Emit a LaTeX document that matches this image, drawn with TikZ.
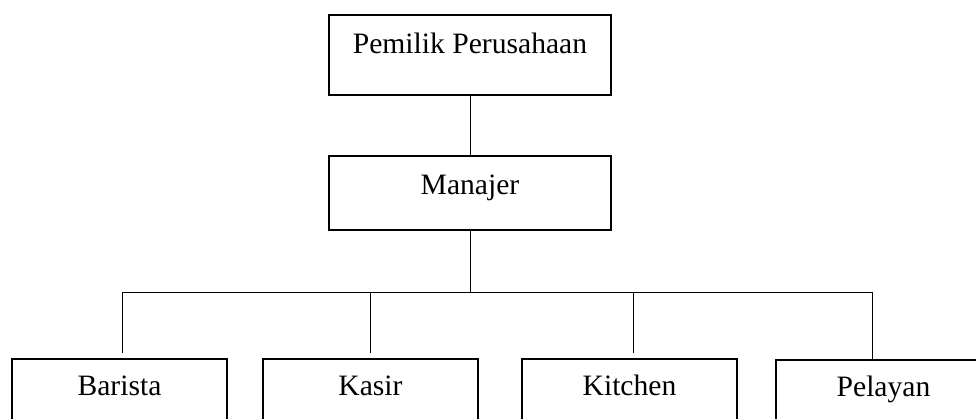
\documentclass[tikz,border=0pt]{standalone}
\usepackage{fontspec}
\setmainfont{Liberation Serif}
\begin{document}
\begin{tikzpicture}[x=1pt,y=-1pt,
  box/.style={draw, line width=1.6pt, rectangle, inner sep=0pt, anchor=north,
    font=\fontsize{29.6}{35}\selectfont},
  conn/.style={line width=1pt}]
\useasboundingbox (0,0) rectangle (976,418);
\clip (0,0) rectangle (976,418);
\node[box, minimum width=282pt, text height=39pt, text depth=41pt] (owner) at (470,14) {Pemilik Perusahaan};
\node[box, minimum width=282pt, text height=39pt, text depth=35pt] (mgr) at (470,155) {Manajer};
\node[box, minimum width=215pt, text height=37pt, text depth=50pt] (barista) at (119.5,358) {Barista};
\node[box, minimum width=215pt, text height=37pt, text depth=50pt] (kasir) at (370.5,358) {Kasir};
\node[box, minimum width=215pt, text height=37pt, text depth=50pt] (kitchen) at (629.5,358) {Kitchen};
\node[box, minimum width=215pt, text height=37pt, text depth=50pt] (pelayan) at (883.5,359) {Pelayan};
\coordinate (bus) at (470,292);
\coordinate (d1) at (122,292);
\coordinate (d2) at (370,292);
\coordinate (d3) at (633,292);
\coordinate (d4) at (872,292);
\draw[conn] (owner.south) -- (mgr.north);
\draw[conn] (mgr.south) -- (bus);
\draw[conn] (d1) -- (d4);
\draw[conn, shorten >=5pt] (d1) -- (d1 |- barista.north);
\draw[conn, shorten >=5pt] (d2) -- (d2 |- kasir.north);
\draw[conn, shorten >=5pt] (d3) -- (d3 |- kitchen.north);
\draw[conn] (d4) -- (d4 |- pelayan.north);
\end{tikzpicture}
\end{document}
